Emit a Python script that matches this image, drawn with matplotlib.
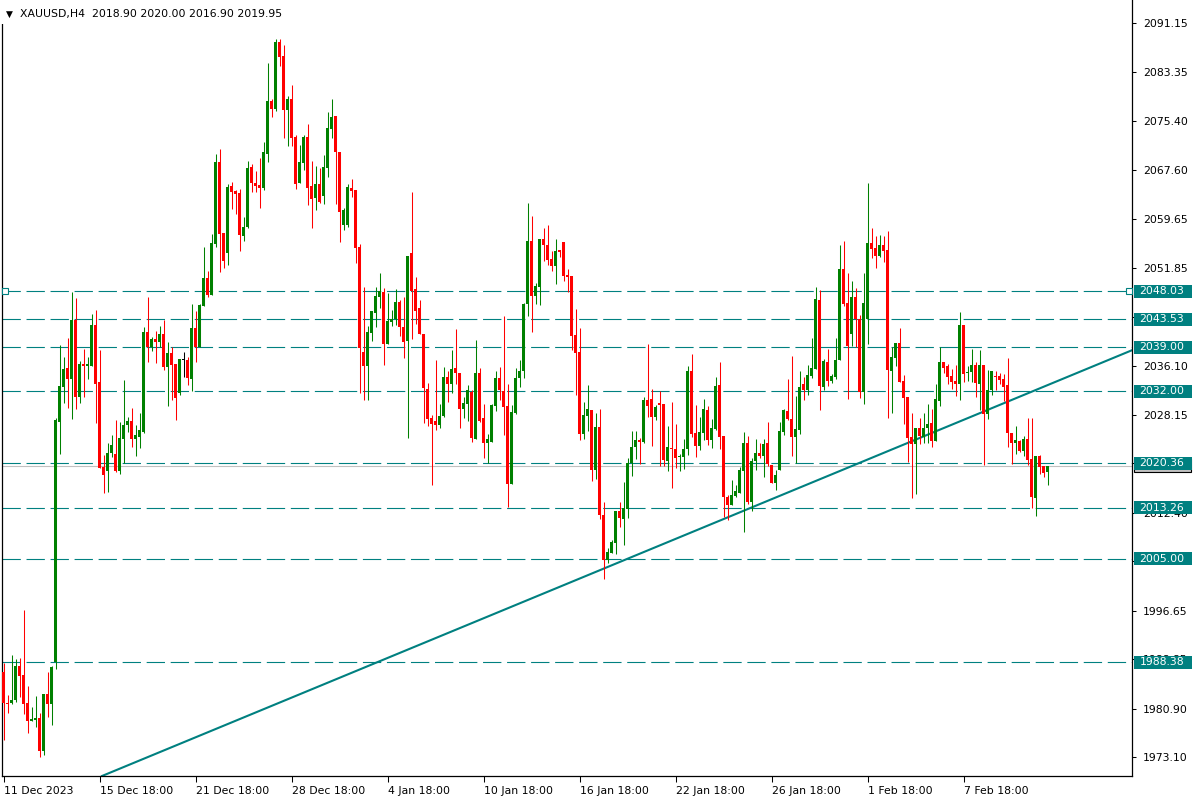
import numpy as np
import matplotlib
matplotlib.use("Agg")
import matplotlib.pyplot as plt
from matplotlib.patches import Rectangle
import matplotlib.transforms as mtransforms

plt.rcParams['font.family'] = ['DejaVu Sans']
plt.rcParams['lines.scale_dashes'] = False

symbol = "XAUUSD,H4"

open_ = [1986.88, 1981.90, 1981.90, 1982.33, 1987.79, 1986.29, 1981.79, 1979.00, 1979.11, 1979.44,
         1974.18, 1983.29, 1981.68, 1988.38, 2027.07, 2032.70, 2035.70, 2033.99, 2043.42, 2031.09,
         2036.35, 2036.02, 2036.02, 2042.62, 2033.45, 2019.73, 2019.20, 2022.04, 2021.88, 2019.20,
         2024.34, 2026.49, 2027.18, 2024.29, 2024.66, 2025.47, 2041.49, 2039.13, 2040.31, 2039.88,
         2041.17, 2035.92, 2038.11, 2036.35, 2031.74, 2036.93, 2036.99, 2033.93, 2042.13, 2039.02,
         2045.72, 2050.17, 2047.49, 2055.64, 2068.82, 2057.41, 2054.24, 2064.96, 2064.16, 2063.84,
         2056.92, 2058.32, 2068.02, 2065.44, 2065.18, 2064.69, 2070.10, 2078.63, 2077.34, 2088.11,
         2085.86, 2077.18, 2078.95, 2072.84, 2065.44, 2068.66, 2072.84, 2064.96, 2063.03, 2065.28,
         2063.35, 2067.85, 2074.12, 2076.21, 2070.43, 2058.69, 2058.69, 2064.64, 2064.32, 2055.15,
         2038.27, 2036.02, 2041.33, 2044.54, 2047.11, 2047.92, 2039.56, 2043.10, 2043.53, 2046.32,
         2042.29, 2040.10, 2054.19, 2048.46, 2045.35, 2041.17, 2032.33, 2027.67, 2027.19, 2026.54,
         2027.99, 2034.26, 2033.13, 2035.70, 2034.90, 2029.11, 2029.92, 2031.85, 2024.29, 2034.90,
         2027.67, 2023.65, 2023.81, 2029.60, 2034.10, 2032.01, 2029.60, 2017.06, 2028.47, 2034.10,
         2035.22, 2045.99, 2056.12, 2047.28, 2048.73, 2056.44, 2055.48, 2053.23, 2052.10, 2054.67,
         2055.96, 2050.65, 2050.49, 2041.01, 2038.28, 2025.09, 2027.99, 2028.95, 2019.30, 2026.22,
         2012.07, 2004.84, 2005.96, 2007.57, 2012.71, 2011.43, 2013.03, 2020.43, 2023.00, 2024.13,
         2023.81, 2030.56, 2030.72, 2027.82, 2030.07, 2029.91, 2020.75, 2022.84, 2022.68, 2021.39,
         2021.39, 2022.68, 2035.22, 2025.25, 2023.16, 2025.25, 2028.95, 2024.12, 2025.89, 2032.97,
         2024.77, 2014.96, 2013.67, 2015.12, 2015.60, 2019.14, 2023.64, 2014.15, 2020.75, 2022.03,
         2021.55, 2023.64, 2020.10, 2017.21, 2019.30, 2025.41, 2028.79, 2027.50, 2024.60, 2025.73,
         2033.12, 2032.16, 2034.41, 2035.54, 2046.63, 2032.64, 2036.66, 2033.61, 2034.25, 2036.98,
         2051.61, 2046.15, 2041.16, 2047.11, 2043.57, 2031.84, 2043.57, 2055.79, 2054.99, 2053.70,
         2055.47, 2054.67, 2035.21, 2037.31, 2039.72, 2033.61, 2031.04, 2024.60, 2023.48, 2026.05,
         2024.60, 2026.05, 2026.86, 2023.96, 2030.39, 2036.66, 2036.02, 2034.41, 2033.61, 2033.13,
         2042.61, 2034.89, 2035.05, 2036.18, 2033.13, 2036.18, 2028.30, 2032.16, 2034.41, 2034.41,
         2033.93, 2032.96, 2025.25, 2023.64, 2023.96, 2022.35, 2024.28, 2021.07, 2014.80, 2021.55,
         2019.94, 2018.90]

high = [1988.33, 1983.13, 1989.56, 1988.92, 1989.08, 1996.79, 1984.58, 1981.20, 1982.97, 1980.18,
        1983.29, 1986.83, 1987.79, 2027.66, 2039.40, 2037.42, 2040.47, 2047.92, 2046.96, 2036.88,
        2038.70, 2037.42, 2044.38, 2045.03, 2038.60, 2021.72, 2023.59, 2024.98, 2027.34, 2027.02,
        2033.77, 2027.88, 2029.27, 2026.54, 2028.41, 2042.35, 2047.12, 2040.63, 2041.65, 2042.45,
        2043.42, 2039.88, 2039.02, 2036.35, 2037.15, 2038.27, 2037.42, 2046.00, 2044.87, 2045.99,
        2055.16, 2051.30, 2057.25, 2070.11, 2070.90, 2057.41, 2065.28, 2065.61, 2064.32, 2064.48,
        2059.98, 2068.98, 2068.50, 2067.37, 2069.46, 2072.03, 2084.68, 2078.95, 2088.54, 2088.54,
        2087.63, 2079.43, 2081.20, 2073.16, 2071.55, 2073.16, 2074.93, 2068.98, 2068.18, 2067.86,
        2069.94, 2076.86, 2078.95, 2076.21, 2070.43, 2061.37, 2065.28, 2066.09, 2064.32, 2055.63,
        2048.72, 2042.45, 2044.86, 2048.72, 2050.97, 2048.56, 2047.76, 2045.03, 2048.46, 2046.64,
        2047.12, 2053.71, 2064.00, 2050.34, 2046.64, 2041.17, 2033.35, 2028.15, 2036.99, 2029.92,
        2035.87, 2035.22, 2038.60, 2041.97, 2034.90, 2031.04, 2032.97, 2032.17, 2040.21, 2035.70,
        2029.92, 2025.09, 2029.92, 2035.22, 2035.87, 2044.07, 2033.13, 2029.76, 2035.70, 2036.99,
        2046.15, 2062.23, 2060.14, 2049.37, 2056.44, 2058.21, 2058.69, 2054.51, 2056.44, 2054.67,
        2055.96, 2051.62, 2050.49, 2045.19, 2042.13, 2030.24, 2032.97, 2028.95, 2028.47, 2029.11,
        2014.16, 2006.77, 2008.05, 2012.71, 2014.16, 2017.38, 2021.24, 2025.57, 2025.57, 2024.45,
        2031.04, 2039.56, 2032.33, 2029.75, 2032.00, 2029.91, 2026.37, 2030.23, 2026.70, 2021.87,
        2024.28, 2036.02, 2037.95, 2029.75, 2027.82, 2030.71, 2029.59, 2027.50, 2034.25, 2036.66,
        2024.77, 2015.28, 2017.69, 2016.89, 2019.78, 2025.41, 2024.77, 2021.23, 2024.28, 2023.64,
        2024.28, 2027.02, 2020.10, 2019.30, 2027.02, 2029.11, 2033.93, 2037.63, 2031.20, 2035.21,
        2034.25, 2036.18, 2040.52, 2048.72, 2048.24, 2037.14, 2038.75, 2034.73, 2040.52, 2055.47,
        2056.12, 2050.97, 2049.68, 2048.56, 2044.22, 2050.97, 2065.44, 2058.20, 2056.92, 2057.08,
        2056.92, 2057.72, 2039.07, 2039.72, 2042.13, 2034.57, 2031.04, 2028.46, 2026.05, 2027.66,
        2028.46, 2029.91, 2029.11, 2033.12, 2039.07, 2036.66, 2036.34, 2035.54, 2036.18, 2044.70,
        2042.61, 2036.02, 2038.75, 2036.66, 2038.59, 2036.18, 2035.37, 2035.21, 2035.21, 2034.89,
        2034.73, 2037.31, 2025.25, 2026.37, 2024.12, 2024.76, 2027.66, 2027.66, 2021.55, 2021.71,
        2019.94, 2020.00]

low = [1975.90, 1980.18, 1981.68, 1982.06, 1982.76, 1980.08, 1977.07, 1979.00, 1977.93, 1973.11,
       1973.43, 1979.65, 1978.31, 1987.36, 2021.88, 2030.13, 2029.27, 2027.56, 2029.16, 2030.02,
       2031.09, 2033.99, 2036.02, 2026.91, 2019.68, 2015.66, 2015.82, 2021.45, 2019.04, 2018.66,
       2020.38, 2025.47, 2023.05, 2021.61, 2022.90, 2025.20, 2036.72, 2038.49, 2036.56, 2039.13,
       2035.38, 2029.59, 2030.56, 2027.34, 2031.36, 2034.25, 2032.97, 2032.06, 2036.72, 2039.02,
       2045.72, 2047.12, 2047.49, 2055.21, 2051.19, 2051.73, 2052.26, 2061.32, 2060.51, 2054.57,
       2056.17, 2058.16, 2064.00, 2064.00, 2061.43, 2064.32, 2068.82, 2076.05, 2077.02, 2084.25,
       2072.68, 2071.39, 2071.39, 2064.48, 2065.44, 2067.53, 2061.91, 2058.21, 2061.10, 2062.17,
       2062.07, 2066.41, 2072.68, 2062.07, 2055.96, 2057.88, 2058.37, 2063.19, 2052.58, 2031.68,
       2030.56, 2030.56, 2040.04, 2042.29, 2045.35, 2036.18, 2039.56, 2042.45, 2042.56, 2040.85,
       2037.37, 2024.50, 2040.42, 2042.78, 2041.17, 2026.86, 2026.38, 2016.90, 2025.74, 2026.06,
       2027.83, 2030.24, 2031.69, 2033.13, 2026.06, 2027.67, 2027.19, 2023.81, 2024.29, 2027.02,
       2021.24, 2020.43, 2023.81, 2028.79, 2030.56, 2024.93, 2013.36, 2017.06, 2028.31, 2032.65,
       2034.10, 2044.06, 2041.49, 2045.99, 2045.83, 2052.91, 2052.26, 2051.30, 2049.21, 2053.55,
       2049.69, 2047.92, 2038.60, 2031.36, 2024.13, 2024.29, 2025.57, 2017.54, 2017.86, 2011.43,
       2001.78, 2004.35, 2005.96, 2005.80, 2010.14, 2007.25, 2011.59, 2018.34, 2021.08, 2020.27,
       2023.65, 2027.83, 2023.16, 2027.34, 2019.94, 2019.94, 2019.14, 2016.41, 2019.62, 2019.14,
       2019.46, 2021.71, 2024.61, 2021.39, 2022.52, 2024.12, 2023.32, 2022.84, 2025.73, 2022.68,
       2011.74, 2011.26, 2013.67, 2014.96, 2015.60, 2009.33, 2013.83, 2012.71, 2019.30, 2021.23,
       2018.17, 2019.94, 2017.21, 2016.08, 2019.30, 2024.90, 2027.40, 2021.55, 2020.37, 2025.09,
       2030.55, 2031.36, 2034.09, 2035.54, 2028.95, 2032.16, 2032.80, 2033.29, 2033.93, 2036.98,
       2045.67, 2030.71, 2039.24, 2039.07, 2030.87, 2029.91, 2039.56, 2053.38, 2051.77, 2053.54,
       2052.74, 2027.66, 2028.46, 2036.02, 2033.45, 2026.69, 2020.58, 2014.80, 2015.44, 2023.48,
       2023.64, 2023.64, 2023.00, 2023.96, 2029.59, 2034.89, 2033.12, 2032.32, 2031.20, 2030.55,
       2033.45, 2033.61, 2033.45, 2031.04, 2028.95, 2020.10, 2027.50, 2031.36, 2032.16, 2033.13,
       2030.39, 2022.99, 2020.26, 2021.87, 2022.19, 2021.55, 2020.10, 2013.19, 2011.90, 2018.66,
       2018.18, 2016.90]

close = [1981.79, 1981.74, 1982.33, 1987.79, 1986.18, 1981.68, 1979.00, 1979.33, 1979.49, 1974.18,
         1983.29, 1981.68, 1987.68, 2027.34, 2032.81, 2035.54, 2033.99, 2043.42, 2031.09, 2036.35,
         2036.02, 2036.35, 2042.62, 2033.18, 2019.68, 2018.55, 2022.04, 2023.32, 2019.20, 2024.45,
         2026.49, 2027.18, 2024.34, 2024.93, 2025.74, 2041.49, 2039.02, 2040.31, 2039.88, 2041.17,
         2035.92, 2038.11, 2036.24, 2030.93, 2037.15, 2036.93, 2034.09, 2042.13, 2039.02, 2045.88,
         2050.17, 2047.38, 2055.80, 2068.82, 2057.25, 2052.96, 2064.80, 2064.05, 2063.73, 2057.14,
         2058.32, 2067.86, 2065.39, 2064.96, 2064.64, 2070.43, 2078.63, 2077.34, 2088.11, 2085.75,
         2077.18, 2078.95, 2072.73, 2065.28, 2068.82, 2072.84, 2064.64, 2062.87, 2065.28, 2062.39,
         2068.02, 2074.28, 2076.05, 2070.43, 2060.78, 2061.10, 2064.80, 2064.16, 2054.99, 2038.92,
         2036.02, 2041.49, 2044.86, 2047.28, 2048.08, 2039.56, 2043.26, 2043.58, 2046.32, 2042.35,
         2039.89, 2053.71, 2048.08, 2044.87, 2041.17, 2032.49, 2027.51, 2026.70, 2026.54, 2027.99,
         2034.26, 2033.13, 2035.54, 2034.90, 2029.11, 2030.08, 2032.17, 2024.45, 2034.90, 2027.19,
         2023.65, 2024.29, 2029.76, 2034.10, 2032.17, 2029.44, 2017.06, 2028.63, 2034.10, 2035.22,
         2045.99, 2056.12, 2047.28, 2048.89, 2056.44, 2055.48, 2053.07, 2052.10, 2054.51, 2054.35,
         2050.49, 2050.33, 2040.85, 2038.11, 2025.09, 2028.15, 2029.11, 2019.30, 2026.22, 2012.07,
         2004.84, 2006.12, 2007.73, 2012.71, 2011.59, 2013.19, 2020.43, 2023.00, 2024.13, 2023.81,
         2030.56, 2029.60, 2027.83, 2029.43, 2029.75, 2020.91, 2023.00, 2022.68, 2021.23, 2021.55,
         2022.68, 2035.22, 2025.09, 2023.16, 2025.41, 2029.11, 2024.12, 2026.05, 2032.80, 2024.61,
         2014.96, 2013.67, 2015.28, 2015.92, 2019.30, 2023.64, 2014.15, 2020.75, 2022.03, 2021.55,
         2023.48, 2020.27, 2017.21, 2018.50, 2025.57, 2028.95, 2027.50, 2024.60, 2025.89, 2032.64,
         2032.16, 2034.57, 2035.70, 2046.79, 2032.80, 2036.82, 2033.61, 2034.41, 2036.98, 2051.61,
         2045.99, 2039.24, 2047.11, 2043.57, 2031.84, 2046.15, 2055.79, 2054.83, 2053.70, 2055.47,
         2054.51, 2035.37, 2037.47, 2039.72, 2033.45, 2030.87, 2024.44, 2023.48, 2026.05, 2024.76,
         2026.05, 2026.69, 2023.96, 2030.71, 2036.66, 2035.70, 2034.25, 2033.45, 2033.13, 2042.61,
         2034.73, 2035.05, 2036.18, 2033.29, 2036.18, 2028.30, 2032.16, 2035.21, 2034.25, 2033.77,
         2032.64, 2025.25, 2023.64, 2024.12, 2022.35, 2024.28, 2020.91, 2014.96, 2021.55, 2019.78,
         2018.82, 2019.95]

date_tick_bars = [0, 24, 48, 72, 96, 120, 144, 168, 192, 216, 240]
date_tick_labels = ["11 Dec 2023", "15 Dec 18:00", "21 Dec 18:00", "28 Dec 18:00",
                    "4 Jan 18:00", "10 Jan 18:00", "16 Jan 18:00", "22 Jan 18:00",
                    "26 Jan 18:00", "1 Feb 18:00", "7 Feb 18:00"]

price_ticks = [2091.15, 2083.35, 2075.40, 2067.60, 2059.65, 2051.85, 2043.90, 2036.10,
               2028.15, 2020.35, 2012.40, 2004.60, 1996.65, 1988.85, 1980.90, 1973.10]

level_prices = [2048.03, 2043.53, 2039.00, 2032.00, 2020.36, 2013.26, 2005.00, 1988.38]
selected_level = 2048.03
level_anchor_bars = [0.4, 281.4]

trend_bars = [32.9, 281.9]
trend_prices = [1972.3, 2038.5]

# ---------------------------------------------------------------------------
W, H = 1196, 800
fig = plt.figure(figsize=(W / 100, H / 100), dpi=100)
ax = fig.add_axes([2 / W, 24 / H, 1130 / W, 776 / H])
ax.set_xlim(-0.375, 282.125)
ax.set_ylim(1970.10, 2094.87)

TEAL = '#008080'
GREEN = '#008000'
RED = '#FF0000'
FS = 7.8

o = np.array(open_)
h = np.array(high)
l = np.array(low)
c = np.array(close)
x = np.arange(len(o))

colors = np.where(c > o, GREEN, np.where(c < o, RED, '#000000'))

# level lines and bid line
for p in level_prices:
    ax.axhline(p, color=TEAL, lw=0.8, linestyle=(0, (13.2, 4.1)), zorder=1)
ax.axhline(c[-1], color='#C0C0C0', lw=0.8, zorder=1)

# trend line
ax.axline((trend_bars[0], trend_prices[0]), (trend_bars[1], trend_prices[1]),
          color=TEAL, lw=1.5, zorder=2)

# candles
ax.vlines(x, l, h, colors=colors, lw=0.75, zorder=3)
body_low = np.minimum(o, c)
body_h = np.maximum(np.abs(c - o), 0.16)
ax.bar(x, body_h, bottom=body_low, width=0.75, color=colors, linewidth=0, zorder=4)

# selected object anchors
ax.plot(level_anchor_bars, [selected_level] * 2, linestyle='none', marker='s',
        markersize=4, markerfacecolor='white', markeredgecolor=TEAL, mew=0.8,
        zorder=5, clip_on=False)

# axes style
ax.spines['top'].set_visible(False)
for side in ['left', 'right', 'bottom']:
    ax.spines[side].set_linewidth(0.9)
    ax.spines[side].set_color('black')

ax.yaxis.tick_right()
ax.set_yticks(price_ticks)
ax.set_yticklabels([f"{p:.2f}" for p in price_ticks])
ax.tick_params(axis='y', direction='out', length=3, width=0.75, pad=5, labelsize=FS, colors='black')

ax.set_xticks(date_tick_bars)
ax.set_xticklabels(date_tick_labels)
ax.tick_params(axis='x', direction='out', length=4, width=0.75, pad=3, labelsize=FS, colors='black')
for lbl in ax.get_xticklabels():
    lbl.set_horizontalalignment('left')

# price-scale labels
trans = mtransforms.blended_transform_factory(fig.transFigure, ax.transData)
ylo, yhi = ax.get_ylim()
bh = (yhi - ylo) / 776 * 13

# bid label (mostly hidden behind the 2020.36 level label)
ax.add_patch(Rectangle((1134 / W, c[-1] - bh / 2), 57 / W, bh, transform=trans,
                       facecolor='#C0C0C0', edgecolor='black', linewidth=0.8,
                       clip_on=False, zorder=5.5))

for p in level_prices:
    ax.add_patch(Rectangle((1133.6 / W, p - bh / 2), 58 / W, bh, transform=trans,
                           facecolor=TEAL, edgecolor='none', clip_on=False, zorder=6))
    ax.text(1139.5 / W, p, f"{p:.2f}", transform=trans, color='white', va='center',
            ha='left', fontsize=FS, zorder=7, clip_on=False)

# header
fig.patches.append(Rectangle((0, (H - 24) / H), 300 / W, 24 / H, transform=fig.transFigure,
                             facecolor='white', edgecolor='none', zorder=10))
fig.text(6 / W, 1 - 14 / H, "\u25BC", fontsize=6.5, va='center', ha='left', color='black', zorder=11)
fig.text(20 / W, 1 - 14 / H,
         f"{symbol}  {o[-1]:.2f} {h[-1]:.2f} {l[-1]:.2f} {c[-1]:.2f}",
         fontsize=FS, va='center', ha='left', color='black', zorder=11)

fig.savefig('out.png', dpi=100, facecolor='white')
